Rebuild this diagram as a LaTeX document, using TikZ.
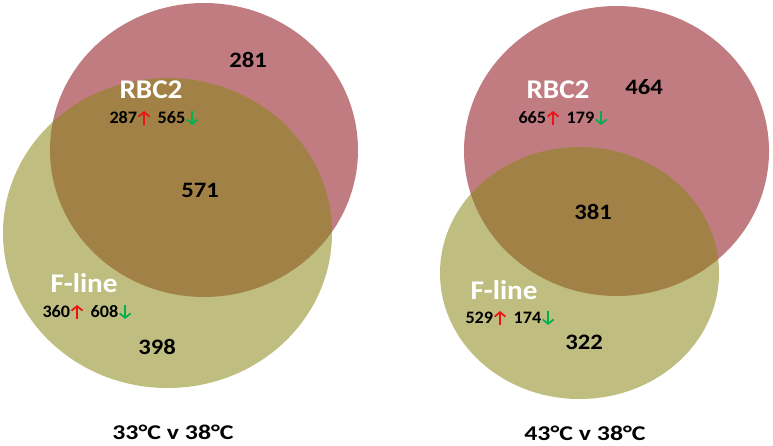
\documentclass[tikz,border=0pt]{standalone}
\usepackage{fontspec}
\usetikzlibrary{arrows.meta}
\setmainfont{Carlito}
\definecolor{rbc}{RGB}{192,124,128}
\definecolor{fl}{RGB}{137,135,21}
\definecolor{upred}{RGB}{235,20,20}
\definecolor{dngreen}{RGB}{0,176,80}
\newcommand{\uparr}{\hspace{0.5pt}\tikz[baseline=0pt]\draw[upred,line width=1.7pt,-{Straight Barb[length=4.5pt,width=10.5pt]}] (0pt,-1.5pt) -- (0pt,12.5pt);}
\newcommand{\dnarr}{\hspace{0.5pt}\tikz[baseline=0pt]\draw[dngreen,line width=1.7pt,-{Straight Barb[length=4.5pt,width=10.5pt]}] (0pt,12.5pt) -- (0pt,-1.5pt);}
\tikzset{
  setname/.style={text=white, inner sep=0pt, xscale=1.08, font=\bfseries\fontsize{27}{30}\selectfont},
  count/.style={text=black, inner sep=0pt, xscale=1.12, font=\bfseries\fontsize{22}{26}\selectfont},
  updown/.style={text=black, inner sep=0pt, xscale=1.04, font=\bfseries\fontsize{17.5}{20}\selectfont},
  caption/.style={text=black, inner sep=0pt, xscale=1.23, font=\bfseries\fontsize{21}{25}\selectfont},
  redset/.style={fill=rbc},
  greenset/.style={fill=fl, fill opacity=0.543}
}
\begin{document}
\begin{tikzpicture}[x=1pt,y=-1pt]
\useasboundingbox (0,0) rectangle (773,445);
% left diagram
\fill[redset] (204,150) ellipse [x radius=154pt, y radius=147pt];
\fill[greenset] (167.5,233) ellipse [x radius=164.5pt, y radius=155pt];
% right diagram
\fill[redset] (616.5,151) ellipse [x radius=152.5pt, y radius=145pt];
\fill[greenset] (579.5,273) ellipse [x radius=139.5pt, y radius=126pt];

% left labels
\node[count] (l281) at (248,60) {281};
\node[setname] (lrbc) at (151,90) {RBC2};
\node[updown] (lrbcud) at (154,118) {287\uparr\hspace{3pt} 565\dnarr};
\node[count] (l571) at (200,190) {571};
\node[setname] (lfl) at (84,283) {F-line};
\node[updown] (lflud) at (87,312) {360\uparr\hspace{3pt} 608\dnarr};
\node[count] (l398) at (157,347) {398};
\node[caption] (lcap) at (173,432) {33°C v 38°C};

% right labels
\node[count] (r464) at (644,87) {464};
\node[setname] (rrbc) at (558,90) {RBC2};
\node[updown] (rrbcud) at (563,118) {665\uparr\hspace{3pt} 179\dnarr};
\node[count] (r381) at (593,212) {381};
\node[setname] (rfl) at (504,290) {F-line};
\node[updown] (rflud) at (510,318) {529\uparr\hspace{3pt} 174\dnarr};
\node[count] (r322) at (584,342) {322};
\node[caption] (rcap) at (585,433) {43°C v 38°C};
\end{tikzpicture}
\end{document}
